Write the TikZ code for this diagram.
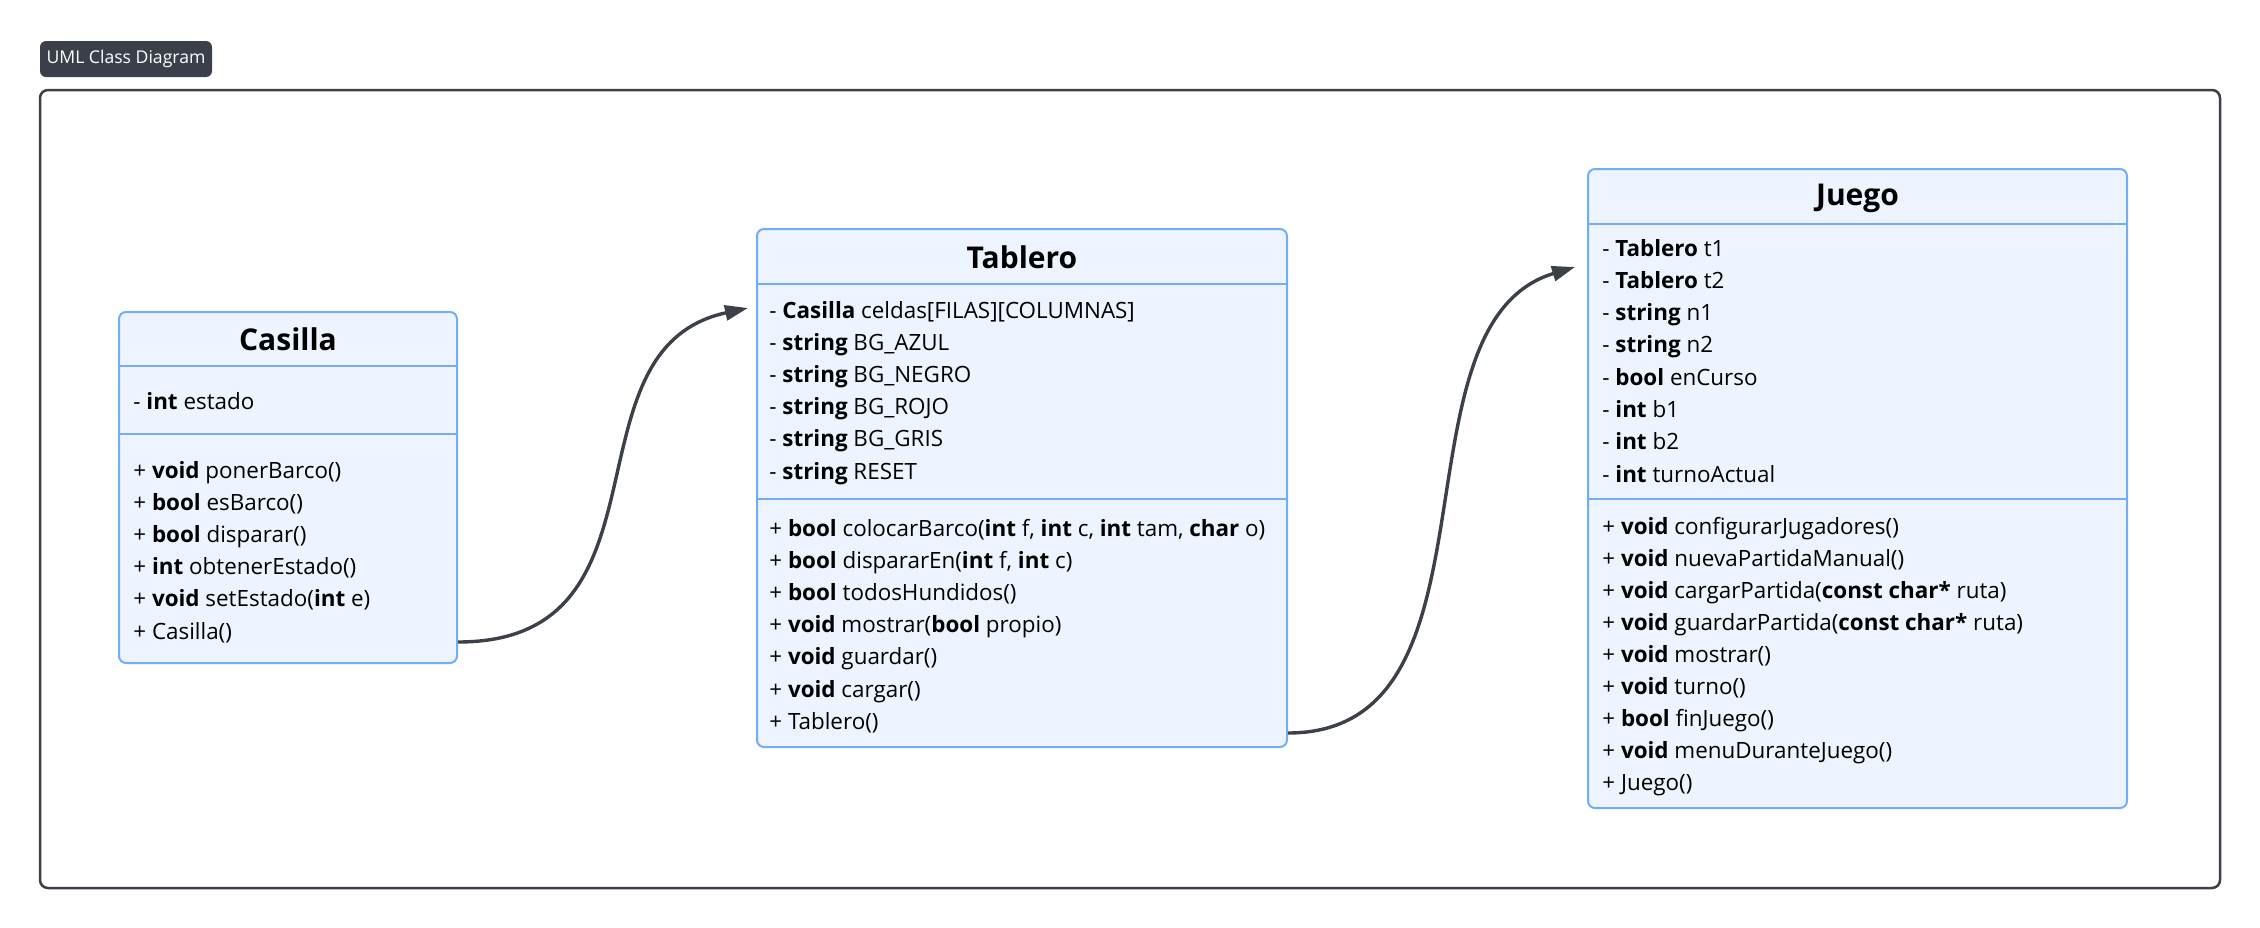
\documentclass[tikz,border=0pt]{standalone}
\usepackage{fontspec}
\setmainfont{Open Sans}
\usetikzlibrary{arrows.meta}
\definecolor{classfill}{HTML}{EDF4FF}
\definecolor{classline}{HTML}{72AEF8}
\definecolor{linkcolor}{HTML}{3B4049}
\definecolor{badgecolor}{HTML}{3A3F4A}

\begin{document}
\begin{tikzpicture}[x=0.5pt, y=-0.5pt,
    frame/.style ={draw=linkcolor, line width=1.25pt, rounded corners=4pt, inner sep=0pt},
    badge/.style ={fill=badgecolor, text=white, rounded corners=3pt, inner sep=0pt, font=\fontsize{8.8}{10}\selectfont},
    classbox/.style ={draw=classline, fill=classfill, line width=1pt, rounded corners=3.5pt, inner sep=0pt},
    sepline/.style ={draw=classline, line width=1pt},
    classname/.style ={inner sep=0pt, text height=10.7pt, text depth=0pt, font=\fontsize{15}{18}\selectfont\bfseries},
    member/.style ={anchor=west, inner sep=0pt, text height=8pt, text depth=0pt, font=\fontsize{11.2}{14}\selectfont},
    link/.style ={draw=linkcolor, line width=1.7pt, -{Triangle[length=11.5pt,width=7.5pt]}}]
   \useasboundingbox (0,0) rectangle (2260,927);

   \node[badge, minimum width=86pt, minimum height=18pt] (badge) at (126,59) {UML Class Diagram};
   \node[frame, minimum width=1090pt, minimum height=399pt] (frame) at (1130,489) {};

   % classes
   \node[classbox, minimum width=169pt, minimum height=175.5pt] (casilla) at (288,487.5) {};
   \node[classbox, minimum width=265pt, minimum height=259pt] (tablero) at (1022,488) {};
   \node[classbox, minimum width=269.5pt, minimum height=319.5pt] (juego) at (1857.5,488.5) {};

   \draw[sepline] (casilla.west |- 0,366) -- (casilla.east |- 0,366);
   \draw[sepline] (casilla.west |- 0,434) -- (casilla.east |- 0,434);
   \draw[sepline] (tablero.west |- 0,284) -- (tablero.east |- 0,284);
   \draw[sepline] (tablero.west |- 0,499) -- (tablero.east |- 0,499);
   \draw[sepline] (juego.west |- 0,223.5) -- (juego.east |- 0,223.5);
   \draw[sepline] (juego.west |- 0,498.5) -- (juego.east |- 0,498.5);

   \node[classname] (casilla-name) at (288,340) {Casilla};
   \node[classname] (tablero-name) at (1022,258) {Tablero};
   \node[classname] (juego-name) at (1857.5,195) {Juego};

   % Casilla
   \node[member] (casilla-a1) at (133,401) {- \textbf{int} estado};
   \foreach \txt [count=\i] in {{+ \textbf{void} ponerBarco()}, {+ \textbf{bool} esBarco()},
       {+ \textbf{bool} disparar()}, {+ \textbf{int} obtenerEstado()},
       {+ \textbf{void} setEstado(\textbf{int} e)}, {+ Casilla()}}
     \node[member] (casilla-m\i) at (133,{470+32.2*(\i-1)}) {\txt};

   % Tablero
   \foreach \txt [count=\i] in {{- \textbf{Casilla} celdas[FILAS][COLUMNAS]}, {- \textbf{string} BG\_AZUL},
       {- \textbf{string} BG\_NEGRO}, {- \textbf{string} BG\_ROJO},
       {- \textbf{string} BG\_GRIS}, {- \textbf{string} RESET}}
     \node[member] (tablero-a\i) at (769,{310+32.2*(\i-1)}) {\txt};
   \foreach \txt [count=\i] in {{+ \textbf{bool} colocarBarco(\textbf{int} f, \textbf{int} c, \textbf{int} tam, \textbf{char} o)},
       {+ \textbf{bool} dispararEn(\textbf{int} f, \textbf{int} c)}, {+ \textbf{bool} todosHundidos()},
       {+ \textbf{void} mostrar(\textbf{bool} propio)}, {+ \textbf{void} guardar()},
       {+ \textbf{void} cargar()}, {+ Tablero()}}
     \node[member] (tablero-m\i) at (769,{528+32.2*(\i-1)}) {\txt};

   % Juego
   \foreach \txt [count=\i] in {{- \textbf{Tablero} t1}, {- \textbf{Tablero} t2},
       {- \textbf{string} n1}, {- \textbf{string} n2}, {- \textbf{bool} enCurso},
       {- \textbf{int} b1}, {- \textbf{int} b2}, {- \textbf{int} turnoActual}}
     \node[member] (juego-a\i) at (1602,{248+32.3*(\i-1)}) {\txt};
   \foreach \txt [count=\i] in {{+ \textbf{void} configurarJugadores()}, {+ \textbf{void} nuevaPartidaManual()},
       {+ \textbf{void} cargarPartida(\textbf{const char*} ruta)},
       {+ \textbf{void} guardarPartida(\textbf{const char*} ruta)},
       {+ \textbf{void} mostrar()}, {+ \textbf{void} turno()}, {+ \textbf{bool} finJuego()},
       {+ \textbf{void} menuDuranteJuego()}, {+ Juego()}}
     \node[member] (juego-m\i) at (1602,{526+32.1*(\i-1)}) {\txt};

   % links
   \coordinate (casilla-out) at ([yshift=11pt]casilla.south east);
   \coordinate (tablero-in) at ([xshift=-4pt,yshift=-40pt]tablero.north west);
   \coordinate (tablero-out) at ([yshift=7.5pt]tablero.south east);
   \coordinate (juego-in) at ([xshift=-6pt,yshift=-49.5pt]juego.north west);

   \draw[link] (casilla-out) .. controls +(223,0) and +(-189,41) .. (tablero-in);
   \draw[link] (tablero-out) .. controls +(223,0) and +(-189,57) .. (juego-in);
\end{tikzpicture}
\end{document}
